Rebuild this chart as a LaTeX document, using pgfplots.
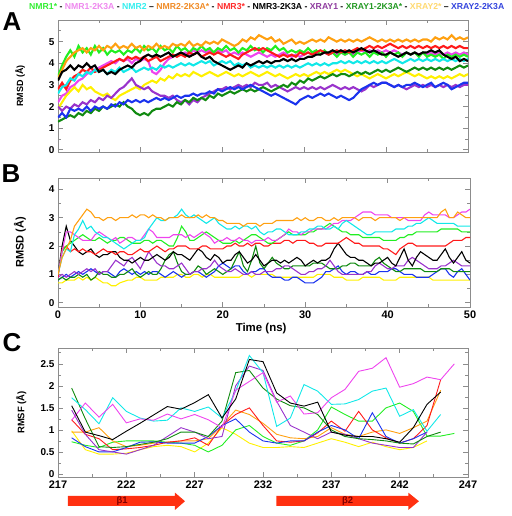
\documentclass[border=0pt]{standalone}
\usepackage{fontspec}
\setmainfont{Liberation Sans}
\usepackage{pgfplots}
\usepackage{pgfplotstable}
\pgfplotsset{compat=1.18}
\definecolor{colG}{HTML}{22EE22}
\definecolor{colM}{HTML}{EE44EE}
\definecolor{colC}{HTML}{11E8E8}
\definecolor{colO}{HTML}{FFA010}
\definecolor{colR}{HTML}{FF1A1A}
\definecolor{colK}{HTML}{000000}
\definecolor{colP}{HTML}{9933CC}
\definecolor{colD}{HTML}{108A10}
\definecolor{colY}{HTML}{FFF000}
\definecolor{colB}{HTML}{1A33EE}
\definecolor{legG}{HTML}{33EE33}
\definecolor{legM}{HTML}{EE88EE}
\definecolor{legC}{HTML}{33EEEE}
\definecolor{legO}{HTML}{F08A24}
\definecolor{legR}{HTML}{FF2A2A}
\definecolor{legP}{HTML}{8E3A9E}
\definecolor{legD}{HTML}{229922}
\definecolor{legY}{HTML}{FFD970}
\definecolor{legB}{HTML}{3344DD}
\definecolor{arrowred}{HTML}{FF3010}
\definecolor{framegray}{HTML}{8C8C8C}

\pgfplotstableread{
t g m c o r k p d y b
0 3.4 2.2 2.6 3.3 2.8 3.2 2.0 1.3 1.9 1.5
0.5 3.9 2.5 2.9 3.7 3.1 3.6 1.8 1.4 2.2 1.7
1 4.3 2.6 3.0 4.1 2.8 3.7 2.0 1.5 2.5 1.5
1.5 4.6 2.9 3.3 4.3 3.2 3.9 1.9 1.6 2.7 1.9
2 4.3 3.0 3.2 4.5 3.4 3.7 2.1 1.5 2.9 1.8
2.5 4.8 3.2 3.5 4.6 3.5 3.9 2.0 1.7 2.7 1.9
3 4.5 3.3 3.4 4.7 3.7 3.8 2.2 1.6 3.0 1.8
3.5 4.7 3.5 3.6 4.5 3.6 4.0 2.1 1.8 2.8 2.0
4 4.4 3.6 3.5 4.7 3.8 3.8 2.3 1.7 2.9 1.8
4.5 4.8 3.7 3.7 4.6 3.6 3.9 2.2 1.9 2.7 2.0
5 4.5 3.8 3.6 4.8 3.7 3.6 2.4 1.8 2.6 1.9
5.5 4.7 3.9 3.7 4.6 3.8 3.7 2.3 2.0 2.5 2.0
6 4.4 4.0 3.5 4.8 3.9 3.5 2.5 1.9 2.6 1.9
6.5 4.6 4.1 3.7 4.7 4.0 3.6 2.4 2.0 2.4 2.1
7 4.5 4.0 3.6 4.9 4.1 3.5 2.6 2.1 2.3 2.0
7.5 4.6 4.2 3.8 4.7 4.2 3.7 2.8 2.0 2.5 2.2
8 4.4 4.1 3.6 4.8 4.1 3.8 2.9 2.2 2.6 2.1
8.5 4.6 4.2 3.7 4.7 4.3 3.9 3.1 2.0 2.7 2.3
9 4.5 4.0 3.8 4.9 4.2 3.8 3.3 1.9 2.8 2.2
9.5 4.7 4.2 3.6 4.7 4.3 4.0 3.0 1.7 2.9 2.3
10 4.5 4.1 3.7 4.8 4.2 4.1 2.9 1.6 2.8 2.2
10.5 4.8 4.2 3.8 4.6 4.3 4.3 2.8 1.7 3.0 2.3
11 4.6 4.1 3.7 4.8 4.1 4.4 2.9 1.6 3.1 2.2
11.5 4.7 3.6 3.8 4.7 4.2 4.3 2.7 1.8 3.2 2.3
12 4.5 3.5 3.7 4.9 4.3 4.4 2.6 1.9 3.1 2.4
12.5 4.8 3.7 3.9 4.7 4.1 4.3 2.5 1.9 3.3 2.3
13 4.6 4.0 3.8 4.8 4.2 4.4 2.5 2.0 3.2 2.4
13.5 4.7 4.2 3.9 4.7 4.3 4.5 2.4 2.1 3.4 2.3
14 4.5 4.3 3.8 4.9 4.4 4.3 2.5 2.0 3.3 2.4
14.5 4.8 4.4 3.9 4.8 4.3 4.4 2.3 2.2 3.5 2.5
15 4.6 4.4 4.0 4.9 4.4 4.5 2.2 2.1 3.4 2.4
15.5 4.7 4.5 3.9 4.8 4.3 4.4 2.3 2.3 3.5 2.5
16 4.5 4.4 4.0 5.0 4.5 4.3 2.1 2.2 3.4 2.5
16.5 4.7 4.6 3.9 4.8 4.4 4.4 2.3 2.4 3.6 2.6
17 4.6 4.5 4.0 4.9 4.5 4.5 2.2 2.3 3.5 2.5
17.5 4.8 4.6 4.1 4.8 4.3 4.3 2.4 2.4 3.4 2.6
18 4.6 4.5 4.0 5.0 4.4 4.2 2.5 2.3 3.5 2.6
18.5 4.7 4.6 4.1 4.9 4.5 4.3 2.6 2.5 3.6 2.7
19 4.5 4.5 3.9 5.0 4.4 4.1 2.7 2.4 3.5 2.6
19.5 4.7 4.6 4.0 4.9 4.5 4.0 2.8 2.6 3.4 2.8
20 4.6 4.5 4.1 5.1 4.4 3.9 2.8 2.5 3.5 2.7
20.5 4.8 4.6 4.0 5.0 4.3 3.8 2.9 2.6 3.6 2.8
21 4.6 4.4 4.1 4.9 4.4 3.7 2.8 2.7 3.5 2.9
21.5 4.7 4.5 3.9 4.8 4.3 3.8 2.9 2.6 3.4 2.8
22 4.5 4.4 4.0 4.9 4.2 3.9 3.0 2.7 3.5 2.9
22.5 4.7 4.5 3.9 5.1 4.4 3.8 2.9 2.8 3.4 2.8
23 4.6 4.4 4.0 5.0 4.5 4.0 3.0 2.7 3.5 2.9
23.5 4.8 4.3 3.8 5.2 4.6 3.9 2.9 2.8 3.6 3.0
24 4.6 4.4 3.9 5.1 4.7 4.0 3.1 2.7 3.5 2.9
24.5 4.7 4.5 3.8 5.3 4.6 4.1 3.0 2.8 3.4 2.8
25 4.5 4.4 3.9 5.2 4.7 4.0 3.0 2.9 3.5 2.7
25.5 4.7 4.3 3.8 5.1 4.6 4.1 3.1 2.8 3.6 2.6
26 4.6 4.4 3.9 5.2 4.5 4.0 2.9 2.7 3.5 2.5
26.5 4.8 4.3 3.8 5.0 4.4 4.1 3.0 2.8 3.4 2.6
27 4.6 4.4 3.9 5.1 4.3 4.1 2.9 2.9 3.5 2.5
27.5 4.7 4.5 3.8 4.9 4.4 4.2 2.8 3.0 3.4 2.4
28 4.5 4.4 3.9 5.0 4.3 4.1 2.7 2.9 3.3 2.3
28.5 4.6 4.3 3.8 5.1 4.4 4.2 2.8 3.1 3.4 2.2
29 4.5 4.4 3.9 4.9 4.3 4.1 2.9 3.0 3.5 2.1
29.5 4.6 4.3 3.8 5.0 4.5 4.2 2.8 3.2 3.4 2.3
30 4.5 4.4 3.9 4.9 4.4 4.2 2.9 3.1 3.5 2.4
30.5 4.7 4.5 4.0 5.0 4.5 4.3 2.8 3.3 3.4 2.5
31 4.5 4.4 3.9 5.1 4.4 4.3 2.9 3.2 3.5 2.4
31.5 4.6 4.5 4.0 5.0 4.5 4.4 2.8 3.3 3.6 2.5
32 4.4 4.4 3.9 5.1 4.6 4.4 2.9 3.4 3.5 2.6
32.5 4.6 4.5 4.0 5.0 4.5 4.5 2.8 3.3 3.6 2.5
33 4.4 4.4 3.9 5.2 4.4 4.5 2.9 3.4 3.5 2.6
33.5 4.5 4.5 4.0 5.1 4.5 4.6 3.0 3.5 3.6 2.5
34 4.3 4.4 4.0 5.0 4.6 4.5 2.9 3.4 3.7 2.4
34.5 4.5 4.5 4.1 5.1 4.5 4.6 2.8 3.5 3.6 2.5
35 4.4 4.4 4.0 5.0 4.6 4.5 2.9 3.5 3.7 2.4
35.5 4.5 4.5 4.1 5.1 4.5 4.6 2.8 3.4 3.6 2.3
36 4.3 4.4 4.0 5.0 4.6 4.5 2.9 3.5 3.5 2.4
36.5 4.5 4.5 4.1 5.1 4.7 4.6 2.8 3.6 3.4 2.6
37 4.4 4.6 4.0 5.0 4.6 4.7 2.7 3.5 3.5 2.8
37.5 4.5 4.5 4.1 5.1 4.7 4.6 2.8 3.6 3.4 2.9
38 4.3 4.6 4.0 5.2 4.8 4.5 3.0 3.5 3.3 3.0
38.5 4.5 4.5 4.1 5.1 4.7 4.6 2.9 3.6 3.4 3.1
39 4.4 4.6 4.0 5.0 4.8 4.5 3.0 3.7 3.5 3.0
39.5 4.5 4.5 4.1 5.1 4.7 4.4 3.1 3.6 3.4 3.1
40 4.3 4.6 4.0 5.0 4.8 4.4 3.1 3.7 3.3 3.1
40.5 4.5 4.5 4.1 5.1 4.9 4.5 3.0 3.6 3.4 3.0
41 4.4 4.6 4.2 5.0 4.8 4.4 2.9 3.7 3.5 2.9
41.5 4.5 4.5 4.1 5.1 4.7 4.3 3.0 3.8 3.4 3.0
42 4.3 4.4 4.0 5.0 4.8 4.4 2.9 3.7 3.5 2.9
42.5 4.5 4.5 4.1 5.1 4.7 4.5 2.8 3.6 3.6 3.0
43 4.4 4.4 4.2 5.0 4.8 4.4 2.9 3.7 3.5 3.0
43.5 4.5 4.5 4.1 5.1 4.7 4.5 3.0 3.8 3.4 3.1
44 4.3 4.4 4.2 5.0 4.8 4.4 2.9 3.7 3.5 3.0
44.5 4.5 4.5 4.1 5.1 4.7 4.5 3.0 3.8 3.4 2.9
45 4.3 4.4 4.2 5.1 4.8 4.5 2.9 3.7 3.3 3.0
45.5 4.4 4.5 4.1 5.0 4.7 4.6 3.0 3.8 3.4 3.1
46 4.3 4.4 4.2 5.2 4.8 4.5 2.9 3.7 3.3 2.9
46.5 4.4 4.5 4.1 5.1 4.7 4.6 3.0 3.8 3.4 3.0
47 4.2 4.4 4.2 5.2 4.8 4.4 2.9 3.7 3.3 3.1
47.5 4.4 4.5 4.1 5.1 4.7 4.3 3.0 3.8 3.4 3.0
48 4.3 4.4 4.2 5.3 4.8 4.2 2.9 3.7 3.3 2.8
48.5 4.4 4.5 4.1 5.1 4.7 4.3 3.0 3.8 3.4 2.9
49 4.3 4.4 4.2 5.2 4.8 4.1 2.9 3.9 3.5 3.0
49.5 4.4 4.5 4.1 5.1 4.7 4.2 3.0 3.8 3.4 3.1
50 4.3 4.4 4.2 5.2 4.7 4.1 3.0 3.9 3.5 3.1
}\tabA

\pgfplotstableread{
t g m c o r k p d y b
0 1.0 1.0 1.0 1.0 0.9 1.0 0.9 0.8 0.7 0.8
0.5 1.8 1.8 1.6 1.6 1.9 2.0 1.0 0.9 0.7 0.9
1 2.0 2.5 1.9 1.9 2.0 2.7 0.9 0.8 0.8 1.0
1.5 2.1 2.5 1.8 2.2 1.8 2.2 1.0 0.9 0.8 0.9
2 2.2 2.4 2.4 2.7 1.9 2.0 1.1 0.9 0.8 1.0
2.5 2.3 2.3 2.6 2.9 1.8 1.8 1.0 1.0 0.9 1.1
3 2.4 2.2 2.9 3.1 1.9 1.7 1.1 0.9 0.8 1.0
3.5 2.3 2.2 2.6 3.3 1.8 1.8 1.2 1.0 0.9 1.1
4 2.2 2.2 2.7 3.2 1.8 1.9 1.1 0.8 0.8 1.2
4.5 2.2 2.4 2.5 3.0 1.7 1.7 1.2 0.9 0.9 1.1
5 2.3 2.5 2.4 3.0 1.8 1.6 1.0 1.1 0.8 1.0
5.5 2.2 2.4 2.3 2.9 1.9 1.7 1.1 1.0 0.7 1.1
6 2.1 2.3 2.3 3.0 1.8 1.7 1.1 1.0 0.7 1.1
6.5 2.2 2.2 2.2 3.0 1.8 1.8 1.3 0.9 0.6 1.0
7 2.2 2.3 2.1 2.9 1.7 1.8 1.5 0.9 0.6 0.9
7.5 2.3 2.1 2.0 3.0 1.8 1.6 1.4 1.0 0.7 1.1
8 2.3 2.2 1.9 3.0 1.8 1.5 1.3 1.0 0.75 1.2
8.5 2.2 2.3 2.0 3.0 1.7 1.5 1.5 1.1 0.8 1.1
9 2.1 2.3 2.1 3.1 1.7 1.4 1.6 1.2 0.8 1.0
9.5 2.1 2.2 2.2 3.0 1.8 1.5 1.4 1.0 0.9 1.1
10 2.1 2.2 2.2 3.1 1.9 1.6 1.2 0.9 0.9 1.0
10.5 2.2 2.4 2.3 3.1 1.8 1.5 1.5 1.0 0.8 1.1
11 2.2 2.6 2.6 3.0 1.8 1.5 1.8 1.1 0.8 1.0
11.5 2.1 2.5 2.8 3.1 1.9 1.6 1.6 1.0 0.8 1.1
12 2.2 2.3 3.0 3.0 2.0 1.7 1.4 1.0 0.8 1.1
12.5 2.2 2.3 2.9 3.0 1.9 1.6 1.3 1.2 0.9 1.0
13 2.1 2.3 2.9 2.9 1.8 1.5 1.3 1.5 0.9 0.9
13.5 2.0 2.3 3.0 3.0 1.9 1.6 1.2 1.7 0.9 1.0
14 2.0 2.4 3.0 3.0 1.9 1.8 1.2 1.8 0.9 1.1
14.5 2.3 2.4 3.1 3.0 2.0 1.7 1.3 1.4 1.0 1.0
15 2.7 2.4 3.3 3.1 2.0 1.7 1.4 1.1 1.0 0.9
15.5 2.5 2.3 3.1 3.0 2.0 1.6 1.2 1.0 0.9 1.0
16 2.2 2.4 3.0 3.0 1.9 1.5 1.0 1.0 0.9 1.0
16.5 2.2 2.3 3.1 3.0 1.9 1.7 1.1 1.1 1.0 1.1
17 2.3 2.4 3.0 3.1 1.9 1.9 1.1 1.3 1.0 1.1
17.5 2.4 2.5 2.9 3.0 2.0 1.8 1.2 1.2 0.9 1.0
18 2.5 2.4 2.8 3.1 2.0 1.6 1.2 1.0 1.0 0.9
18.5 2.4 2.3 2.9 3.0 1.9 1.5 1.3 1.1 1.0 1.0
19 2.3 2.1 3.0 3.0 1.9 1.7 1.5 1.2 0.9 1.1
19.5 2.2 2.2 2.8 2.9 1.9 1.6 1.3 1.1 0.9 1.3
20 2.1 2.2 2.7 2.9 1.9 1.4 1.2 1.0 0.9 1.4
20.5 2.1 2.3 2.6 2.8 2.0 1.5 1.1 1.1 0.9 1.3
21 2.1 2.2 2.6 2.8 2.0 1.5 1.1 1.2 0.9 1.2
21.5 2.2 2.2 2.7 2.8 2.1 1.7 1.2 1.5 0.9 1.3
22 2.1 2.3 2.6 2.8 2.0 1.8 1.1 1.8 0.9 1.3
22.5 2.2 2.2 2.7 2.7 2.0 1.6 1.0 1.3 1.0 1.1
23 2.3 2.2 2.7 2.8 2.1 1.4 1.0 1.1 1.0 1.0
23.5 2.4 2.1 2.6 2.8 2.0 1.5 1.1 1.5 0.9 1.1
24 2.4 2.2 2.7 2.8 2.1 1.7 1.0 2.0 1.0 1.1
24.5 2.3 2.2 2.5 2.7 2.1 1.5 1.0 1.4 1.0 1.2
25 2.2 2.2 2.4 2.8 2.0 1.3 1.1 1.2 1.0 1.2
25.5 2.1 2.3 2.5 2.8 2.0 1.4 1.1 1.4 1.0 1.0
26 2.1 2.2 2.5 2.8 2.1 1.5 1.1 1.6 1.0 0.9
26.5 2.2 2.2 2.6 2.9 2.1 1.5 1.2 1.4 0.9 0.9
27 2.3 2.3 2.6 2.9 2.1 1.4 1.2 1.3 0.9 0.9
27.5 2.4 2.4 2.5 2.9 2.2 1.5 1.3 1.2 0.9 0.8
28 2.5 2.6 2.4 2.9 2.2 1.4 1.3 1.2 0.9 0.8
28.5 2.4 2.5 2.4 2.9 2.1 1.5 1.2 1.3 0.9 0.9
29 2.4 2.5 2.4 3.0 2.2 1.6 1.1 1.3 0.9 0.9
29.5 2.4 2.4 2.5 2.9 2.2 1.5 1.0 1.3 0.9 0.8
30 2.4 2.5 2.5 3.0 2.2 1.3 1.0 1.3 0.9 0.7
30.5 2.5 2.5 2.6 2.9 2.1 1.4 1.1 1.3 0.9 0.7
31 2.5 2.6 2.6 2.9 2.1 1.5 1.1 1.4 0.9 0.7
31.5 2.6 2.6 2.7 3.0 2.0 1.4 1.2 1.4 1.0 0.8
32 2.6 2.6 2.7 3.0 2.0 1.5 1.2 1.4 1.0 0.9
32.5 2.7 2.6 2.6 2.9 2.1 1.5 1.3 1.3 1.0 1.1
33 2.8 2.7 2.6 2.9 2.1 1.6 1.5 1.2 1.0 1.1
33.5 2.7 2.8 2.7 3.0 2.1 1.9 1.3 1.2 0.9 1.2
34 2.6 2.8 2.6 2.9 2.1 2.1 1.1 1.2 0.9 1.3
34.5 2.5 2.9 2.8 3.0 2.2 1.9 1.0 1.3 0.9 1.1
35 2.5 2.9 2.9 3.0 2.3 1.7 1.0 1.3 0.8 1.0
35.5 2.4 2.9 2.8 3.0 2.2 1.6 1.0 1.4 0.8 1.1
36 2.4 3.0 2.7 3.0 2.1 1.6 1.0 1.4 0.8 1.1
36.5 2.4 3.1 2.6 2.9 2.1 1.5 1.0 1.3 0.8 1.0
37 2.3 3.2 2.5 3.0 2.0 1.5 1.0 1.3 0.9 1.0
37.5 2.3 3.2 2.4 3.0 2.0 1.4 1.1 1.3 0.9 1.1
38 2.3 3.2 2.4 3.0 2.0 1.3 1.1 1.3 0.9 1.0
38.5 2.3 3.1 2.5 2.9 2.0 1.4 1.3 1.5 0.9 1.0
39 2.3 3.1 2.5 3.0 2.0 1.4 1.4 1.6 0.9 1.1
39.5 2.2 3.1 2.5 3.0 1.9 1.5 1.3 1.4 0.8 1.1
40 2.2 3.1 2.5 3.0 1.9 1.6 1.2 1.3 0.8 1.1
40.5 2.2 3.0 2.5 3.0 1.8 1.4 1.2 1.2 0.8 1.2
41 2.2 3.0 2.6 3.0 1.7 1.3 1.3 1.1 0.8 1.2
41.5 2.3 3.0 2.6 2.9 1.9 1.6 1.3 1.1 0.9 1.1
42 2.3 3.0 2.6 3.0 2.0 1.9 1.3 1.2 0.9 1.0
42.5 2.4 2.9 2.7 3.0 2.1 1.5 1.5 1.2 0.9 1.0
43 2.4 2.9 2.7 3.0 2.1 1.3 1.6 1.2 0.9 1.0
43.5 2.5 2.9 2.8 3.0 2.0 1.6 1.5 1.2 0.9 0.9
44 2.5 2.9 2.8 3.0 2.0 1.8 1.4 1.2 0.9 0.9
44.5 2.5 3.1 2.9 3.0 2.0 1.7 1.3 1.1 0.9 0.9
45 2.5 3.2 3.0 3.0 2.0 1.6 1.2 1.1 0.9 0.9
45.5 2.5 3.1 2.9 3.0 2.0 1.5 1.2 1.1 0.8 1.0
46 2.5 3.1 2.8 3.0 2.0 1.5 1.2 1.1 0.8 1.1
46.5 2.6 3.1 2.8 3.2 2.0 1.7 1.3 1.2 0.8 1.2
47 2.6 3.1 2.8 3.3 2.0 1.9 1.3 1.2 0.8 1.2
47.5 2.6 3.0 2.8 3.0 2.1 1.6 1.4 1.2 0.8 1.0
48 2.6 3.0 2.8 3.0 2.2 1.4 1.5 1.1 0.8 0.9
48.5 2.6 3.1 2.7 3.2 2.2 1.6 1.4 1.1 0.8 1.1
49 2.5 3.2 2.7 3.1 2.2 1.8 1.3 1.1 0.8 1.2
49.5 2.5 3.2 2.7 3.0 2.3 1.5 1.3 1.1 0.8 1.0
50 2.5 3.3 2.7 3.0 2.3 1.4 1.3 1.1 0.8 0.8
}\tabB

\pgfplotstableread{
x g m c o r k p d y b
218 0.73 1.22 1.73 0.95 1.23 1.55 1.45 1.95 0.98 0.82
219 0.65 1.61 1.46 0.95 0.90 0.95 0.90 1.25 0.55 0.62
220 0.60 1.29 1.14 1.05 0.80 0.87 0.55 0.62 0.45 0.50
221 0.72 1.58 1.73 0.75 0.55 0.78 0.50 0.60 0.45 0.50
222 0.75 1.16 1.42 0.62 0.57 0.97 0.45 0.62 0.47 0.60
223 0.75 1.25 1.27 0.65 0.60 1.15 0.55 0.67 0.55 0.72
224 0.75 1.22 1.20 0.70 0.65 1.34 0.65 0.72 0.62 0.73
225 0.72 1.36 1.22 0.72 0.72 1.53 0.85 0.80 0.65 0.70
226 0.70 1.25 1.50 0.75 0.75 1.47 1.05 0.95 0.62 0.70
227 0.65 1.35 1.42 0.75 0.82 1.62 0.95 0.95 0.50 0.70
228 0.50 1.23 1.52 0.80 0.65 1.80 0.80 0.85 0.70 0.85
229 0.65 1.05 1.27 1.10 1.10 1.27 0.85 1.20 1.05 1.10
230 1.00 1.90 1.88 1.45 1.35 1.70 2.00 2.30 0.90 1.25
231 1.10 2.10 2.69 1.35 1.50 2.60 2.45 2.35 0.70 0.95
232 0.85 2.30 2.30 1.15 1.10 2.55 2.35 1.95 0.60 0.75
233 0.70 1.63 1.08 0.90 0.75 1.84 1.65 1.70 0.60 0.70
234 0.65 1.77 1.27 0.82 0.72 1.61 1.10 1.55 0.62 0.75
235 0.75 1.36 2.03 0.80 0.75 1.54 0.95 1.50 0.60 0.75
236 1.00 1.39 1.88 0.85 0.93 1.63 0.80 1.35 0.70 0.95
237 1.52 1.73 1.58 1.05 1.20 0.95 0.95 1.00 0.80 1.10
238 1.35 1.92 1.59 0.90 0.97 0.88 0.90 0.85 0.72 1.00
239 1.20 2.33 1.69 0.85 1.42 0.85 0.80 0.80 0.62 0.80
240 1.20 2.40 1.88 0.95 1.00 0.85 0.70 0.78 0.72 1.39
241 1.50 2.64 1.95 1.00 0.82 0.80 0.65 0.75 0.62 0.85
242 1.61 1.97 1.31 0.92 0.70 0.72 0.60 0.70 0.55 0.70
243 1.42 2.05 1.46 1.05 0.80 1.05 0.60 0.68 0.60 0.80
244 0.86 2.20 0.97 1.20 1.10 1.58 0.95 0.85 0.75 0.95
245 0.86 2.14 1.35 1.90 2.14 1.86 nan 0.95 nan nan
246 0.92 2.50 nan nan nan nan nan nan nan nan
}\tabC

\pgfplotsset{
  panel/.style={
    scale only axis,
    anchor=north west,
    axis line style={framegray, line width=0.8pt},
    tick style={framegray, line width=0.7pt},
    major tick length=5bp,
    minor tick length=3bp,
    tick align=inside,
    /pgf/number format/assume math mode=true,
    xticklabel={\textbf{\pgfmathprintnumber[assume math mode=true]{\tick}}},
    yticklabel={\textbf{\pgfmathprintnumber[assume math mode=true]{\tick}}},
    xticklabel style={font=\bfseries\fontsize{11}{11}\selectfont},
    yticklabel style={font=\bfseries\fontsize{10}{10}\selectfont},
  }
}

\begin{document}
\begin{tikzpicture}
\path[use as bounding box] (0,0) rectangle (512bp,-516bp);

\node[anchor=west, inner sep=0pt, font=\bfseries\fontsize{8.7}{9}\selectfont] at (29bp,-6.5bp)
{\textcolor{legG}{NMR1*} - \textcolor{legM}{NMR1-2K3A} - \textcolor{legC}{NMR2} – \textcolor{legO}{NMR2-2K3A*} - \textcolor{legR}{NMR3*} - NMR3-2K3A - \textcolor{legP}{XRAY1} - \textcolor{legD}{XRAY1-2K3A*} - \textcolor{legY}{XRAY2*} – \textcolor{legB}{XRAY2-2K3A}};

\node[font=\bfseries\fontsize{26}{26}\selectfont, inner sep=0pt] at (12bp,-22bp) {A};
\node[font=\bfseries\fontsize{26}{26}\selectfont, inner sep=0pt] at (11bp,-174bp) {B};
\node[font=\bfseries\fontsize{26}{26}\selectfont, inner sep=0pt] at (12bp,-343bp) {C};

% Panel A
\begin{axis}[panel, at={(58bp,-20bp)}, width=410bp, height=132bp,
  xmin=0, xmax=50, ymin=-0.1, ymax=6,
  xtick={0,10,...,50}, minor xtick={5,15,...,45}, xticklabels={},
  ytick={0,1,...,5}, minor ytick={0.5,1.5,...,5.5},
  ylabel={RMSD (Å)},
  ylabel style={at={(axis description cs:-0.0927,0.5)}, anchor=center, font=\bfseries\fontsize{9}{9}\selectfont}]
\addplot[color=colM, line width=2.1pt] table[x=t,y=m]{\tabA};
\addplot[color=colG, line width=2.1pt] table[x=t,y=g]{\tabA};
\addplot[color=colR, line width=2.1pt] table[x=t,y=r]{\tabA};
\addplot[color=colC, line width=2.1pt] table[x=t,y=c]{\tabA};
\addplot[color=colY, line width=2.1pt] table[x=t,y=y]{\tabA};
\addplot[color=colP, line width=2.1pt] table[x=t,y=p]{\tabA};
\addplot[color=colD, line width=2.1pt] table[x=t,y=d]{\tabA};
\addplot[color=colB, line width=2.1pt] table[x=t,y=b]{\tabA};
\addplot[color=colO, line width=2.1pt] table[x=t,y=o]{\tabA};
\addplot[color=colK, line width=2.1pt] table[x=t,y=k]{\tabA};
\end{axis}

% Panel B
\begin{axis}[panel, at={(58bp,-178bp)}, width=412bp, height=129bp,
  xmin=0, xmax=50, ymin=-0.15, ymax=4.4,
  xtick={0,10,...,50}, minor xtick={5,15,...,45},
  ytick={0,1,...,4}, minor ytick={0.5,1.5,...,4},
  ylabel={RMSD (Å)}, xlabel={Time (ns)},
  ylabel style={at={(axis description cs:-0.0922,0.5)}, anchor=center, font=\bfseries\fontsize{11}{11}\selectfont},
  xlabel style={at={(axis description cs:0.493,0)}, anchor=center, yshift=-22bp, font=\bfseries\fontsize{11.5}{11.5}\selectfont}]
\addplot[color=colY, line width=1.1pt] table[x=t,y=y]{\tabB};
\addplot[color=colB, line width=1.1pt] table[x=t,y=b]{\tabB};
\addplot[color=colD, line width=1.1pt] table[x=t,y=d]{\tabB};
\addplot[color=colP, line width=1.1pt] table[x=t,y=p]{\tabB};
\addplot[color=colK, line width=1.1pt] table[x=t,y=k]{\tabB};
\addplot[color=colR, line width=1.1pt] table[x=t,y=r]{\tabB};
\addplot[color=colG, line width=1.1pt] table[x=t,y=g]{\tabB};
\addplot[color=colM, line width=1.1pt] table[x=t,y=m]{\tabB};
\addplot[color=colC, line width=1.1pt] table[x=t,y=c]{\tabB};
\addplot[color=colO, line width=1.1pt] table[x=t,y=o]{\tabB};
\end{axis}

% Panel C
\begin{axis}[panel, at={(58bp,-348bp)}, width=410bp, height=129bp,
  xmin=217, xmax=247, ymin=-0.07, ymax=2.86, clip=false,
  xtick={217,222,...,247}, minor xtick={219.5,224.5,...,244.5},
  ytick={0,0.5,...,2.5}, minor ytick={0.25,0.75,...,2.75},
  ylabel={RMSF (Å)},
  ylabel style={at={(axis description cs:-0.09,0.5)}, anchor=center, font=\bfseries\fontsize{9.5}{9.5}\selectfont}]
\addplot[color=colY, line width=0.9pt] table[x=x,y=y]{\tabC};
\addplot[color=colG, line width=0.9pt] table[x=x,y=g]{\tabC};
\addplot[color=colO, line width=0.9pt] table[x=x,y=o]{\tabC};
\addplot[color=colR, line width=0.9pt] table[x=x,y=r]{\tabC};
\addplot[color=colB, line width=0.9pt] table[x=x,y=b]{\tabC};
\addplot[color=colP, line width=0.9pt] table[x=x,y=p]{\tabC};
\addplot[color=colD, line width=0.9pt] table[x=x,y=d]{\tabC};
\addplot[color=colC, line width=0.9pt] table[x=x,y=c]{\tabC};
\addplot[color=colM, line width=0.9pt] table[x=x,y=m]{\tabC};
\addplot[color=colK, line width=0.9pt] table[x=x,y=k]{\tabC};
\addplot[fill=arrowred, draw=none] coordinates {(217.73,-0.5) (225.56,-0.5) (225.56,-0.425) (226.29,-0.62) (225.56,-0.818) (225.56,-0.727) (217.73,-0.727)} -- cycle;
\addplot[fill=arrowred, draw=none] coordinates {(232.97,-0.5) (242.63,-0.5) (242.63,-0.425) (243.41,-0.62) (242.63,-0.818) (242.63,-0.727) (232.97,-0.727)} -- cycle;
\node[font=\bfseries\fontsize{9.5}{9.5}\selectfont, text=red!50!black] at (axis cs:221.7,-0.61) {β1};
\node[font=\bfseries\fontsize{9.5}{9.5}\selectfont, text=red!50!black] at (axis cs:238.2,-0.61) {β2};
\end{axis}
\end{tikzpicture}
\end{document}
